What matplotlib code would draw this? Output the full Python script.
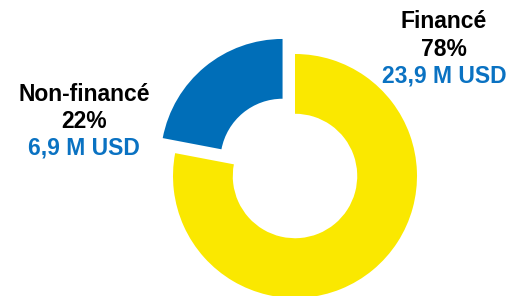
import matplotlib
matplotlib.use("Agg")
import matplotlib.pyplot as plt

categories = ["Financé", "Non-financé"]
percents = [78, 22]
amounts = ["23,9 M USD", "6,9 M USD"]
colors = ["#FAE800", "#006EB8"]

W, H = 511, 296
fig = plt.figure(figsize=(W / 100, H / 100), dpi=100)
ax = fig.add_axes([0, 0, 1, 1])
R = 122.0
cx, cy = 295.0, H - 176.0
ax.axis("off")

ax.pie(percents, colors=colors, startangle=90, counterclock=False,
       explode=[0, 0.16], radius=1.0,
       wedgeprops=dict(width=0.49, edgecolor="none"))
ax.set_xlim(-cx / R, (W - cx) / R)
ax.set_ylim(-cy / R, (H - cy) / R)
ax.set_aspect("auto")

font = "Liberation Sans"
def px(x, y):
    return ((x - cx) / R, ((H - y) - cy) / R)

def label(x, baselines, name, pct, amt):
    for (yb, txt, col) in zip(baselines, [name, f"{pct}%", amt],
                              ["black", "black", "#0A72C2"]):
        X, Y = px(x, yb)
        ax.text(X, Y, txt, ha="center", va="baseline", fontsize=16.5,
                fontweight="bold", color=col, family=font)

label(444, [28, 55.5, 83], categories[0], percents[0], amounts[0])
label(84, [101, 128.5, 154], categories[1], percents[1], amounts[1])

fig.savefig("out.png", dpi=100)
